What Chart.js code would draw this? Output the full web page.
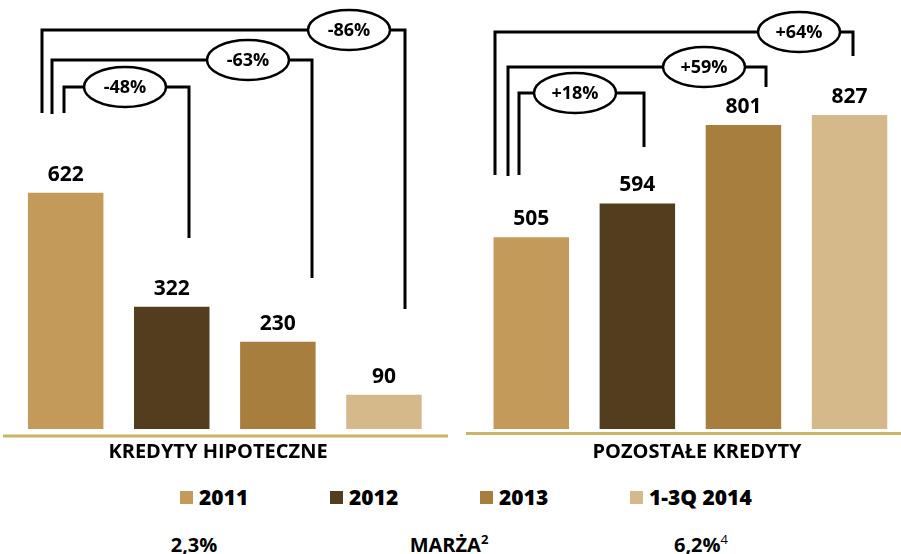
<!DOCTYPE html>
<html>
<head>
<meta charset="utf-8">
<script src="https://cdn.jsdelivr.net/npm/chart.js@4.4.1/dist/chart.umd.min.js"></script>
<style>
  body { margin: 0; background: #fff; }
  #wrap { position: relative; width: 901px; height: 554px; overflow: hidden; font-family: "Open Sans", sans-serif; font-weight: bold; color: #000; }
  #chart { position: absolute; left: -20px; top: 0; }
  .leg { position: absolute; top: 483px; height: 28px; line-height: 28px; font-size: 21px; white-space: nowrap; }
  .leg span { position: absolute; left: 0; top: 8px; width: 13px; height: 13px; }
  .leg b { position: absolute; left: 19px; top: 0; }
  .foot { position: absolute; top: 531px; font-size: 20px; line-height: 28px; transform: translateX(-50%); white-space: nowrap; }
  .foot sup { font-size: 13px; line-height: 0; vertical-align: 8px; }
</style>
</head>
<body>
<div id="wrap">
  <canvas id="chart" width="950" height="470"></canvas>
  <div id="legend"></div>
  <div id="footer"></div>
</div>
<script>
// data
const categories = ['KREDYTY HIPOTECZNE', 'POZOSTAŁE KREDYTY'];
const years = ['2011', '2012', '2013', '1-3Q 2014'];
const values2011 = [622, 505];
const values2012 = [322, 594];
const values2013 = [230, 801];
const values2014 = [90, 827];
const yearColors = ['#C49A5B', '#523D1F', '#A87E3F', '#D6B98B'];
const marginLabels = ['2,3%', 'MARŻA', '6,2%'];
const marginNotes = ['', '2', '4'];

const series = [values2011, values2012, values2013, values2014];

// page offset of the canvas
const OX = 20;

// bracket layout (page px): which bars it links, top line, verticals, ellipse center
const brackets = [
  { cat: 0, to: 1, top: 87, xl: 64, xr: 189, yl: 113, yr: 238, ex: 125 },
  { cat: 0, to: 2, top: 60, xl: 52, xr: 312, yl: 114, yr: 278, ex: 248 },
  { cat: 0, to: 3, top: 30, xl: 42, xr: 405, yl: 113, yr: 309, ex: 349 },
  { cat: 1, to: 1, top: 93, xl: 519, xr: 644, yl: 175, yr: 147, ex: 575 },
  { cat: 1, to: 2, top: 67, xl: 508, xr: 766, yl: 176, yr: 87, ex: 704 },
  { cat: 1, to: 3, top: 32, xl: 495, xr: 853, yl: 175, yr: 56, ex: 799 }
];
const labelCenters = [218, 697];
const baseLines = [[3, 448, 436], [466, 901, 433.5]];

function changeText(from, to) {
  const p = Math.round((to / from - 1) * 100);
  return (p > 0 ? '+' : '') + p + '%';
}

const decorations = {
  id: 'decorations',
  afterDatasetsDraw(chart) {
    const ctx = chart.ctx;
    ctx.save();
    // value labels above bars
    ctx.font = 'bold 21px "Open Sans"';
    ctx.fillStyle = '#000';
    ctx.textAlign = 'center';
    ctx.textBaseline = 'alphabetic';
    chart.data.datasets.forEach((ds, i) => {
      chart.getDatasetMeta(i).data.forEach((bar, j) => {
        ctx.fillText(ds.data[j], bar.x, bar.y - 12);
      });
    });
    // gold base lines
    ctx.strokeStyle = '#C9B46C';
    ctx.lineWidth = 3;
    baseLines.forEach(l => {
      ctx.beginPath();
      ctx.moveTo(l[0] + OX, l[2]);
      ctx.lineTo(l[1] + OX, l[2]);
      ctx.stroke();
    });
    // category labels
    ctx.font = 'bold 20px "Open Sans"';
    ctx.textBaseline = 'middle';
    categories.forEach((c, i) => ctx.fillText(c, labelCenters[i] + OX, 452));
    // brackets
    ctx.strokeStyle = '#000';
    brackets.forEach(b => {
      ctx.lineWidth = 3;
      ctx.beginPath();
      ctx.moveTo(b.xl + OX, b.yl);
      ctx.lineTo(b.xl + OX, b.top);
      ctx.lineTo(b.xr + OX, b.top);
      ctx.lineTo(b.xr + OX, b.yr);
      ctx.stroke();
      ctx.lineWidth = 2.5;
      ctx.beginPath();
      ctx.ellipse(b.ex + OX, b.top, 41, 20, 0, 0, Math.PI * 2);
      ctx.fillStyle = '#fff';
      ctx.fill();
      ctx.stroke();
      ctx.fillStyle = '#000';
      ctx.font = 'bold 18px "Open Sans"';
      ctx.fillText(changeText(series[0][b.cat], series[b.to][b.cat]), b.ex + OX, b.top + 1);
    });
    ctx.restore();
  }
};

new Chart(document.getElementById('chart'), {
  type: 'bar',
  data: {
    labels: categories,
    datasets: years.map((y, i) => ({
      label: y,
      data: series[i],
      backgroundColor: yearColors[i],
      borderWidth: 0,
      categoryPercentage: 0.9114,
      barPercentage: 0.7116
    }))
  },
  options: {
    responsive: false,
    animation: false,
    layout: { padding: { left: 12, right: 6.8, top: 0, bottom: 41 } },
    plugins: { legend: { display: false }, tooltip: { enabled: false } },
    scales: {
      x: { display: false },
      y: { display: false, min: 0, max: 1130 }
    }
  },
  plugins: [decorations]
});

// legend
const legend = document.getElementById('legend');
years.forEach((y, i) => {
  const d = document.createElement('div');
  d.className = 'leg';
  d.style.left = (180 + i * 150) + 'px';
  d.innerHTML = '<span style="background:' + yearColors[i] + '"></span><b>' + y + '</b>';
  legend.appendChild(d);
});

// margin row
const footer = document.getElementById('footer');
const footX = [194, 449, 701];
marginLabels.forEach((t, i) => {
  const d = document.createElement('div');
  d.className = 'foot';
  d.style.left = footX[i] + 'px';
  let note = marginNotes[i] ? '<sup style="font-weight:' + (i === 2 ? 'normal' : 'bold') + '">' + marginNotes[i] + '</sup>' : '';
  d.innerHTML = t + note;
  footer.appendChild(d);
});
</script>
</body>
</html>
